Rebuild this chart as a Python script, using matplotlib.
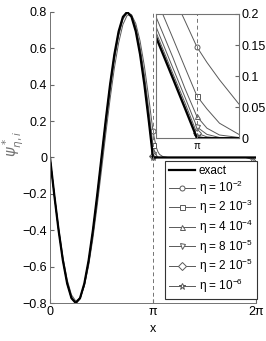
import numpy as np
import matplotlib
matplotlib.use("Agg")
import matplotlib.pyplot as plt

plt.rcParams['font.family'] = ['Liberation Sans', 'DejaVu Sans']
plt.rcParams['font.size'] = 9

# x positions in units of pi
x_over_pi = [0, 0.0417, 0.0833, 0.125, 0.1667, 0.2083, 0.25, 0.2917, 0.3333, 0.375,
             0.4167, 0.4583, 0.5, 0.5417, 0.5833, 0.625, 0.6667, 0.7083, 0.75, 0.7917,
             0.8333, 0.875, 0.9167, 0.9583, 0.9682, 0.9809, 0.9905, 1.0, 1.008, 1.018,
             1.0334, 1.0477, 1.0637, 1.0955, 1.1432, 1.5, 1.9, 1.95, 1.98, 2.0]

exact = [0, -0.207, -0.4, -0.566, -0.693, -0.773, -0.8, -0.773, -0.693, -0.566,
         -0.4, -0.207, 0, 0.207, 0.4, 0.566, 0.693, 0.773, 0.8, 0.773,
         0.693, 0.566, 0.4, 0.207, 0.159, 0.096, 0.048, 0, 0, 0,
         0, 0, 0, 0, 0, 0, 0, 0, 0, 0]

eta_1e2 = [0, -0.199, -0.385, -0.546, -0.672, -0.755, -0.789, -0.773, -0.707, -0.595,
           -0.445, -0.266, -0.071, 0.129, 0.320, 0.491, 0.630, 0.731, 0.782, 0.784,
           0.736, 0.640, 0.502, 0.331, 0.288, 0.231, 0.189, 0.147, 0.122, 0.094,
           0.055, 0.032, 0.017, 0.005, 0.0, 0.0, 0.0, -0.008, -0.035, -0.085]

eta_2e3 = [0, -0.204, -0.395, -0.560, -0.687, -0.769, -0.798, -0.778, -0.704, -0.584,
           -0.424, -0.237, -0.034, 0.172, 0.366, 0.536, 0.669, 0.759, 0.796, 0.785,
           0.718, 0.605, 0.455, 0.268, 0.222, 0.161, 0.114, 0.068, 0.047, 0.024,
           0.006, 0.002, 0.0, 0.0, 0.0, 0.0, 0.0, -0.002, -0.015, -0.045]

eta_4e4 = [0, -0.206, -0.397, -0.563, -0.690, -0.771, -0.800, -0.775, -0.699, -0.575,
           -0.413, -0.223, -0.018, 0.188, 0.383, 0.550, 0.681, 0.766, 0.800, 0.779,
           0.708, 0.588, 0.427, 0.239, 0.192, 0.130, 0.080, 0.035, 0.016, 0.005,
           0.001, 0.0, 0.0, 0.0, 0.0, 0.0, 0.0, 0.0, -0.006, -0.02]

eta_8e5 = [0, -0.206, -0.399, -0.564, -0.691, -0.772, -0.800, -0.774, -0.696, -0.570,
           -0.407, -0.215, -0.009, 0.197, 0.391, 0.557, 0.687, 0.769, 0.800, 0.777,
           0.701, 0.578, 0.414, 0.224, 0.176, 0.113, 0.066, 0.018, 0.006, 0.001,
           0.0, 0.0, 0.0, 0.0, 0.0, 0.0, 0.0, 0.0, 0.0, -0.003]

eta_2e5 = [0, -0.207, -0.4, -0.565, -0.692, -0.773, -0.800, -0.773, -0.694, -0.568,
           -0.403, -0.211, -0.004, 0.203, 0.396, 0.562, 0.690, 0.771, 0.800, 0.775,
           0.697, 0.572, 0.408, 0.215, 0.167, 0.104, 0.057, 0.008, 0.002, 0.0,
           0.0, 0.0, 0.0, 0.0, 0.0, 0.0, 0.0, 0.0, 0.0, 0.0]

eta_1e6 = [0, -0.207, -0.4, -0.566, -0.693, -0.773, -0.8, -0.773, -0.693, -0.567,
           -0.401, -0.208, -0.001, 0.206, 0.399, 0.565, 0.692, 0.772, 0.8, 0.774,
           0.695, 0.568, 0.403, 0.209, 0.162, 0.099, 0.051, 0.003, 0.0, 0.0,
           0.0, 0.0, 0.0, 0.0, 0.0, 0.0, 0.0, 0.0, 0.0, 0.0]

approx = [eta_1e2, eta_2e3, eta_4e4, eta_8e5, eta_2e5, eta_1e6]
labels = ['η = 10$^{\\mathregular{-2}}$', 'η = 2 10$^{\\mathregular{-3}}$',
          'η = 4 10$^{\\mathregular{-4}}$', 'η = 8 10$^{\\mathregular{-5}}$',
          'η = 2 10$^{\\mathregular{-5}}$', 'η = 10$^{\\mathregular{-6}}$']
markers = ['o', 's', '^', 'v', 'D', '*']

x = np.array(x_over_pi) * np.pi
i_pi = x_over_pi.index(1.0)
gray = '0.35'


def draw(ax):
    hs = []
    for y, lab, m in zip(approx, labels, markers):
        h, = ax.plot(x, y, color=gray, lw=0.7, marker=m, markevery=[i_pi],
                     ms=4.5 if m == '*' else 3.6, mfc='white', mec=gray, mew=0.7, label=lab)
        hs.append(h)
    he, = ax.plot(x, exact, color='black', lw=1.6, label='exact')
    ax.axvline(np.pi, color='0.45', lw=0.7, ls=(0, (4, 3)))
    return [he] + hs


fig = plt.figure(figsize=(2.66, 3.41), dpi=100)
ax = fig.add_axes([0.188, 0.1114, 0.774, 0.8536])
handles = draw(ax)
ax.set_xlim(0, 2 * np.pi)
ax.set_ylim(-0.8, 0.8)
ax.set_xticks([0, np.pi, 2 * np.pi])
ax.set_xticklabels(['0', 'π', '2π'])
ax.set_yticks(np.arange(-0.8, 0.81, 0.2))
ax.set_yticklabels(['−0.8', '−0.6', '−0.4', '−0.2', '0', '0.2', '0.4', '0.6', '0.8'])
ax.tick_params(direction='in', length=3, color='0.4', pad=2)
for s in ['top', 'right']:
    ax.spines[s].set_visible(False)
for s in ['left', 'bottom']:
    ax.spines[s].set_color('0.45')
    ax.spines[s].set_linewidth(0.7)
ax.set_xlabel('x', labelpad=2)
ax.set_ylabel('$\\psi^*_{\\eta,i}$', color='0.45', fontsize=10.5)
ax.yaxis.set_label_coords(-0.115, 0.545)
ax.xaxis.set_label_coords(0.5, -0.07)

leg = ax.legend(handles=handles, loc='lower right', bbox_to_anchor=(1.005, 0.014),
                fancybox=False, edgecolor='0.2', framealpha=1, fontsize=8.5,
                handlelength=2.2, handletextpad=0.3, labelspacing=0.12,
                borderpad=0.35, borderaxespad=0)
leg.get_frame().set_linewidth(0.8)

ins = fig.add_axes([0.586, 0.595, 0.312, 0.364])
draw(ins)
ins.set_xlim(np.pi - 0.1025, np.pi + 0.105)
ins.set_ylim(0, 0.2)
ins.set_xticks([np.pi])
ins.set_xticklabels(['π'], fontsize=7)
ins.set_yticks([0, 0.05, 0.1, 0.15, 0.2])
ins.set_yticklabels(['0', '0.05', '0.1', '0.15', '0.2'])
ins.yaxis.tick_right()
ins.tick_params(direction='in', length=3, color='0.4', pad=2)
for s in ins.spines.values():
    s.set_color('0.45')
    s.set_linewidth(0.8)

fig.savefig('out.png', dpi=100)
